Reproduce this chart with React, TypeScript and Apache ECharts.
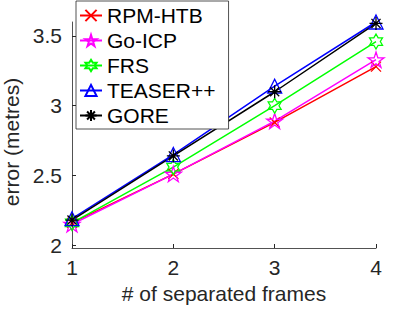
import React, { useEffect, useRef } from "react";
import * as echarts from "echarts";

const frames = [1, 2, 3, 4];
const rpmHtb = [2.16, 2.51, 2.88, 3.28];
const goIcp = [2.15, 2.51, 2.89, 3.33];
const frs = [2.16, 2.56, 3.0, 3.46];
const teaser = [2.19, 2.65, 3.14, 3.6];
const gore = [2.18, 2.64, 3.1, 3.59];
const yTicks = [2, 2.5, 3, 3.5];
const seriesNames = ["RPM-HTB", "Go-ICP", "FRS", "TEASER++", "GORE"];

function starPath(points: number, inner: number): string {
  const pts: string[] = [];
  for (let k = 0; k < points * 2; k++) {
    const r = k % 2 === 0 ? 10 : 10 * inner;
    const a = (-90 + (k * 180) / points) * (Math.PI / 180);
    pts.push(`${(10 + r * Math.cos(a)).toFixed(3)},${(10 + r * Math.sin(a)).toFixed(3)}`);
  }
  return "path://M" + pts.join("L") + "Z";
}

const crossSym = "path://M0,0L10,10M10,0L0,10";
const pentagram = starPath(5, 0.382);
const hexagram = starPath(6, 0.577);
const asterisk = "path://M5,0L5,10M0,5L10,5M1.5,1.5L8.5,8.5M8.5,1.5L1.5,8.5";

export default function App() {
  const ref = useRef<HTMLDivElement>(null);
  useEffect(() => {
    if (!ref.current) return;
    const chart = echarts.init(ref.current, null, { renderer: "svg" });
    const font = "Liberation Sans, Arial, Helvetica, sans-serif";
    const axisColor = "#262626";
    const fs = 21;
    const mk = (name: string, data: number[], color: string, symbol: string, size: number) => ({
      name,
      type: "line",
      data: frames.map((f, i) => [f, data[i]]),
      symbol,
      symbolSize: size,
      symbolKeepAspect: true,
      showAllSymbol: true,
      lineStyle: { color, width: 1.5 },
      itemStyle: { color: "rgba(0,0,0,0)", borderColor: color, borderWidth: 1.3 },
      emphasis: { disabled: true },
    });
    chart.setOption({
      animation: false,
      textStyle: { fontFamily: font },
      grid: { left: 72, top: 22, right: 39, bottom: 63, containLabel: false, outerBoundsMode: "none" },
      legend: {
        data: seriesNames,
        orient: "vertical",
        left: 76,
        top: 1,
        itemWidth: 22,
        itemHeight: 14,
        itemGap: 4,
        padding: [4, 13, 3, 3],
        backgroundColor: "#ffffff",
        borderColor: axisColor,
        borderWidth: 0.8,
        borderRadius: 0,
        textStyle: { fontSize: fs, color: "#000", fontFamily: font },
      },
      xAxis: {
        type: "value",
        min: 1,
        max: 4,
        interval: 1,
        name: "# of separated frames",
        nameLocation: "middle",
        nameGap: 30,
        nameTextStyle: { fontSize: fs, color: axisColor, fontFamily: font },
        axisLine: { lineStyle: { color: axisColor, width: 0.8 } },
        axisTick: { inside: true, length: 4, lineStyle: { color: axisColor } },
        axisLabel: { fontSize: fs, color: axisColor, margin: 9, fontFamily: font },
        splitLine: { show: false },
      },
      yAxis: {
        type: "value",
        min: 1.98,
        max: 3.6,
        name: "error (metres)",
        nameLocation: "middle",
        nameGap: 47,
        nameTextStyle: { fontSize: fs, color: axisColor, fontFamily: font, padding: [0, 14, 0, 0] },
        axisLine: { show: true, lineStyle: { color: axisColor, width: 0.8 } },
        axisTick: { show: true, inside: true, length: 4, customValues: yTicks, lineStyle: { color: axisColor } },
        axisLabel: {
          fontSize: fs,
          color: axisColor,
          margin: 10,
          fontFamily: font,
          customValues: yTicks,
          formatter: (v: number) => String(v),
        },
        splitLine: { show: false },
      },
      series: [
        mk("RPM-HTB", rpmHtb, "#ff0000", crossSym, 10),
        mk("Go-ICP", goIcp, "#ff00ff", pentagram, 16),
        mk("FRS", frs, "#00ff00", hexagram, 15),
        mk("TEASER++", teaser, "#0000ff", "triangle", 14),
        mk("GORE", gore, "#000000", asterisk, 13),
      ],
    });
    return () => chart.dispose();
  }, []);
  return <div ref={ref} style={{ position: "absolute", left: 0, top: 0, width: 415, height: 311 }} />;
}
